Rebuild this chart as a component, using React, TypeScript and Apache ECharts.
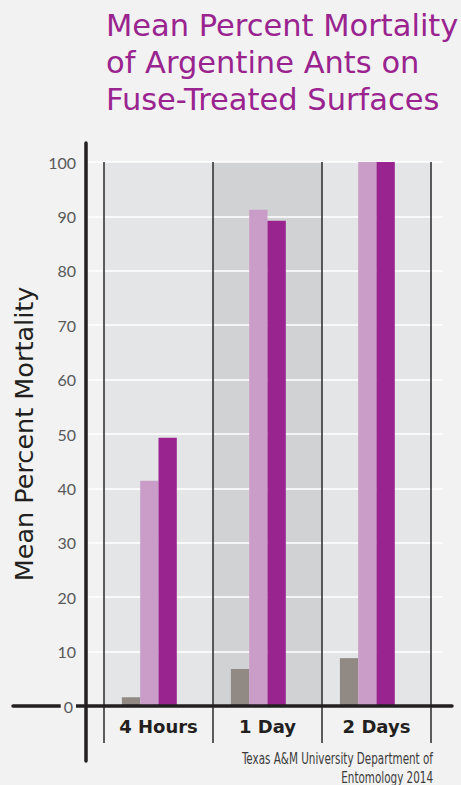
import React, { useEffect, useRef } from "react";
import * as echarts from "echarts";

const categories = ["4 Hours", "1 Day", "2 Days"];
const seriesGray = [1.6, 6.8, 8.8];
const seriesLight = [41.4, 91.2, 100];
const seriesPurple = [49.3, 89.2, 100];
const yTicks = { min: 0, max: 100, interval: 10 };
const titleText = "Mean Percent Mortality\nof Argentine Ants on\nFuse-Treated Surfaces";
const yTitle = "Mean Percent Mortality";
const sourceText = "Texas A&M University Department of\nEntomology 2014";

export default function App() {
  const ref = useRef<HTMLDivElement>(null);
  useEffect(() => {
    if (!ref.current) return;
    const chart = echarts.init(ref.current, undefined, { renderer: "svg" });
    const TOP = 162;
    const BOTTOM = 79;
    const font = "'DejaVu Sans', sans-serif";
    chart.setOption({
      animation: false,
      backgroundColor: "#f2f2f2",
      title: [
        {
          text: titleText,
          left: 101,
          top: 2,
          textStyle: {
            fontFamily: font,
            fontWeight: "normal",
            fontSize: 30.5,
            lineHeight: 37,
            color: "#9a248f",
          },
        },
      ],
      graphic: [
        {
          type: "text",
          x: 433,
          y: 750,
          scaleX: 0.77,
          style: {
            text: sourceText,
            align: "right",
            verticalAlign: "top",
            fontFamily: "'DejaVu Sans Condensed', 'DejaVu Sans', sans-serif",
            fontSize: 15,
            lineHeight: 18.5,
            fill: "#3c3c3c",
          },
        },
      ],
      grid: [
        { left: 88, right: 18, top: TOP, bottom: BOTTOM },
        { left: 104, right: 30, top: TOP, bottom: BOTTOM },
        { left: 86, right: 18, top: 143, bottom: 24 },
        { left: 13, right: 9, top: TOP, bottom: BOTTOM },
      ],
      xAxis: [
        { gridIndex: 0, type: "value", show: false },
        {
          gridIndex: 1,
          type: "category",
          position: "bottom",
          data: categories,
          z: 0,
          axisLine: { show: false },
          axisTick: { show: false },
          splitLine: { show: false },
          splitArea: { show: true, areaStyle: { color: ["#e4e5e7", "#d1d2d4"] } },
          axisLabel: {
            margin: 11,
            fontFamily: font,
            fontWeight: "bold",
            fontSize: 18,
            color: "#231f20",
          },
        },
        {
          gridIndex: 1,
          type: "category",
          position: "bottom",
          data: categories,
          z: 4,
          axisLine: { show: false },
          axisLabel: { show: false },
          axisTick: {
            show: true,
            length: 37,
            lineStyle: { color: "#2a2a2a", width: 1.5 },
          },
          splitLine: { show: true, lineStyle: { color: "#2a2a2a", width: 1.5 } },
        },
        { gridIndex: 2, type: "value", show: false },
        {
          gridIndex: 3,
          type: "value",
          position: "bottom",
          z: 6,
          axisLine: { show: true, onZero: false, lineStyle: { color: "#231f20", width: 3.5 } },
          axisTick: { show: false },
          axisLabel: { show: false },
          splitLine: { show: false },
        },
      ],
      yAxis: [
        {
          gridIndex: 0,
          type: "value",
          position: "left",
          ...yTicks,
          z: 1,
          axisLine: { show: false },
          axisTick: { show: false },
          axisLabel: { show: false },
          splitLine: { show: true, lineStyle: { color: "#ffffff", width: 1.5 } },
        },
        { gridIndex: 1, type: "value", position: "left", ...yTicks, show: false },
        {
          gridIndex: 0,
          type: "value",
          position: "left",
          ...yTicks,
          z: 10,
          axisLine: { show: false },
          axisTick: { show: false },
          splitLine: { show: false },
          name: yTitle,
          nameLocation: "middle",
          nameRotate: 90,
          nameGap: 42,
          nameTextStyle: {
            fontFamily: font,
            fontSize: 25.5,
            color: "#231f20",
          },
          axisLabel: {
            margin: 12,
            fontFamily: "Lato, sans-serif",
            fontSize: 16,
            color: "#58595b",
            formatter: (v: number) => (v === 0 ? "{z|0}" : String(v)),
            rich: {
              z: {
                fontFamily: "Lato, sans-serif",
                fontSize: 16,
                color: "#58595b",
                backgroundColor: "#f2f2f2",
                padding: [2, 3, 2, 3],
              },
            },
          },
        },
        {
          gridIndex: 2,
          type: "value",
          position: "left",
          z: 6,
          axisLine: { show: true, onZero: false, lineStyle: { color: "#231f20", width: 3.5 } },
          axisTick: { show: false },
          axisLabel: { show: false },
          splitLine: { show: false },
        },
        { gridIndex: 3, type: "value", show: false },
      ],
      series: [
        {
          type: "bar",
          xAxisIndex: 1,
          yAxisIndex: 1,
          data: seriesGray,
          barWidth: 18.3,
          barGap: "0%",
          z: 5,
          itemStyle: { color: "#918a84" },
        },
        {
          type: "bar",
          xAxisIndex: 1,
          yAxisIndex: 1,
          data: seriesLight,
          barWidth: 18.3,
          barGap: "0%",
          z: 5,
          itemStyle: { color: "#c99dc8" },
        },
        {
          type: "bar",
          xAxisIndex: 1,
          yAxisIndex: 1,
          data: seriesPurple,
          barWidth: 18.3,
          barGap: "0%",
          z: 5,
          itemStyle: { color: "#9a248f" },
        },
        {
          type: "bar",
          xAxisIndex: 1,
          yAxisIndex: 1,
          data: ["-", "-", "-"],
          barWidth: 18.3,
          barGap: "0%",
          z: 5,
          itemStyle: { color: "transparent" },
        },
      ],
    });
    return () => chart.dispose();
  }, []);
  return (
    <div
      ref={ref}
      style={{ position: "fixed", left: 0, top: 0, width: 461, height: 785 }}
    />
  );
}
